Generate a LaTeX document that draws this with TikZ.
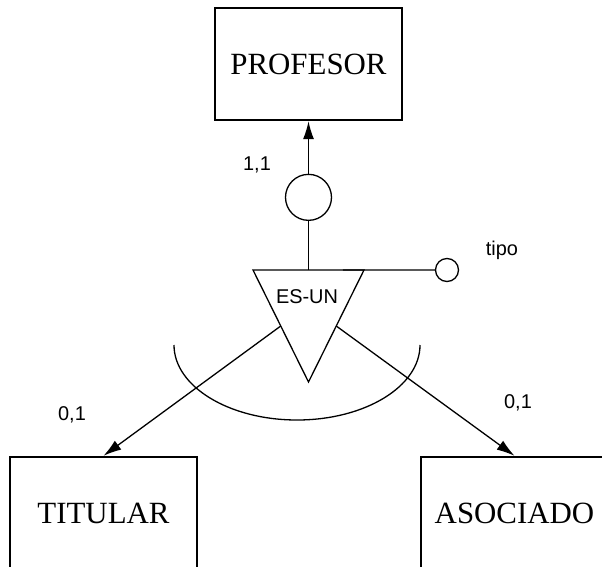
\documentclass[tikz,border=0pt]{standalone}
\usepackage{fontspec}
\setmainfont{Liberation Serif}
\setsansfont{Liberation Sans}
\usetikzlibrary{arrows.meta, positioning, calc}

\begin{document}
\begin{tikzpicture}[x=1bp, y=1bp, >={Latex[length=18bp, width=11bp]},
    entidad/.style={draw, rectangle, line width=2.4bp, minimum width=187bp, minimum height=112bp, font=\fontsize{31}{36}\selectfont},
    etiq/.style={font=\sffamily\fontsize{20}{24}\selectfont, inner sep=0pt},
    linea/.style={line width=1.3bp}]

    \useasboundingbox (0,0) rectangle (602,-567);
    \clip (0,0) rectangle (602,-567);

    % Entidad padre
    \node[entidad] (profesor) at (308.5,-64) {PROFESOR};

    % Participacion
    \node[draw, circle, linea, minimum size=46bp, inner sep=0pt, below=52.5bp of profesor] (part) {};

    % Triangulo ES-UN
    \coordinate[below=49bp of part] (tt);
    \coordinate[left=55.5bp of tt] (tl);
    \coordinate[right=55.5bp of tt] (tr);
    \coordinate[below=112bp of tt] (tb);
    \draw[linea] (tl) -- (tr) -- (tb) -- cycle;
    \node[etiq] (esun) at (307,-297) {ES-UN};

    % Entidades hijas
    \node[entidad] (titular) at (103.5,-513) {TITULAR};
    \node[entidad] (asociado) at (514.5,-513) {ASOCIADO};

    % Atributo discriminante
    \coordinate (tipoi) at ($(tl)!0.81!(tr)$);
    \node[draw, circle, linea, minimum size=23bp, inner sep=0pt] (tipoc) at ($(tt)+(138.5,0)$) {};
    \node[etiq] (tipo) at (502,-250) {tipo};

    % Cardinalidades
    \node[etiq] (c11) at (257,-165) {1,1};
    \node[etiq] (c01a) at (72,-415) {0,1};
    \node[etiq] (c01b) at (518,-403) {0,1};

    % Enlaces
    \draw[linea, ->] (part) -- (profesor);
    \draw[linea] (part) -- (tt);
    \draw[linea] (tipoi) -- (tipoc);
    \draw[linea, ->] ($(tl)!0.5!(tb)$) -- (titular.north);
    \draw[linea, ->] ($(tr)!0.5!(tb)$) -- (asociado.north);

    % Arco de exclusividad
    \draw[linea] (174,-345) arc[start angle=180, end angle=360, x radius=123, y radius=75];

\end{tikzpicture}
\end{document}
